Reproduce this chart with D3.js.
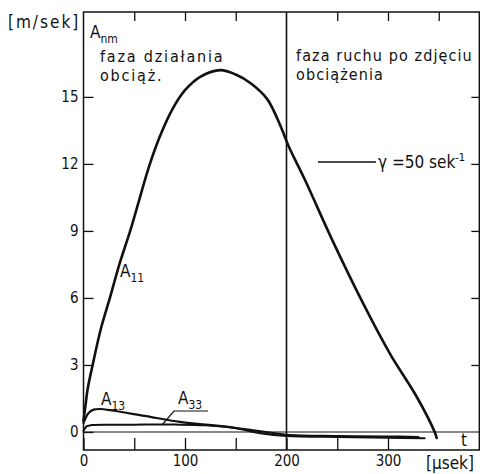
<!DOCTYPE html>
<html>
<head>
<meta charset="utf-8">
<script src="https://d3js.org/d3.v7.min.js"></script>
<style>
body { margin: 0; background: #fff; }
text { fill: #111; font-family: "DejaVu Sans Condensed", "DejaVu Sans", sans-serif; }
.axis path { display: none; }
.axis line { stroke: #111; stroke-width: 1.3px; }
.axis text { font-size: 15px; fill: #111; font-family: "DejaVu Sans Condensed", "DejaVu Sans", sans-serif; }
.curve { fill: none; stroke: #111; stroke-linejoin: round; stroke-linecap: round; }
</style>
</head>
<body>
<svg id="chart" width="480" height="474"></svg>
<script>
// A11 curve (time in microsec, A in m/sek)
var tA11 = [0, 2, 4, 9, 17, 26, 36, 46, 55, 64, 75, 87, 100, 115, 135, 150, 165, 181, 195, 202, 218, 245, 275, 302, 328, 346, 348];
var vA11 = [0.5, 1.2, 1.9, 3.0, 4.6, 6.0, 7.6, 9.0, 10.4, 11.8, 13.2, 14.4, 15.3, 15.9, 16.2, 16.0, 15.6, 14.9, 13.6, 12.8, 11.3, 8.6, 5.8, 3.5, 1.6, 0, -0.27];
// A13
var tA13 = [0, 5, 10, 16, 30, 60, 95, 120, 144, 160, 174, 200, 250, 300, 336];
var vA13 = [0.4, 0.85, 1.0, 1.03, 0.95, 0.72, 0.45, 0.33, 0.22, 0.08, -0.05, -0.18, -0.22, -0.25, -0.28];
// A33
var tA33 = [0, 3, 7, 30, 60, 90, 120, 150, 180, 200, 250, 300, 330];
var vA33 = [0.05, 0.25, 0.3, 0.32, 0.33, 0.33, 0.3, 0.18, 0.0, -0.12, -0.18, -0.2, -0.22];

var yTicks = [0, 3, 6, 9, 12, 15];
var xTicks = [0, 50, 100, 150, 200, 250, 300, 350];
var xLabels = [0, 100, 200, 300];

var svg = d3.select("#chart");

var x = d3.scaleLinear().domain([0, 390]).range([83.5, 479.35]);
var y = d3.scaleLinear().domain([-0.806, 18.8]).range([450, 12]);

// frame
svg.append("rect")
    .attr("x", x(0)).attr("y", y(18.8))
    .attr("width", x(390) - x(0)).attr("height", y(-0.806) - y(18.8))
    .attr("fill", "none").attr("stroke", "#111").attr("stroke-width", 1.5);

// zero line (t axis)
svg.append("line")
    .attr("x1", x(0)).attr("x2", x(390))
    .attr("y1", y(0)).attr("y2", y(0))
    .attr("stroke", "#111").attr("stroke-width", 1.2);

// end of loading phase
svg.append("line")
    .attr("x1", x(200)).attr("x2", x(200))
    .attr("y1", y(18.8)).attr("y2", y(-0.806))
    .attr("stroke", "#111").attr("stroke-width", 1.6);

// axes
svg.append("g").attr("class", "axis")
    .attr("transform", "translate(" + x(0) + ",0)")
    .call(d3.axisLeft(y).tickValues(yTicks).tickSizeInner(-10).tickSizeOuter(0).tickPadding(5));

svg.append("g").attr("class", "axis")
    .attr("transform", "translate(" + x(390) + ",0)")
    .call(d3.axisRight(y).tickValues(yTicks.slice(1)).tickSizeInner(-8).tickSizeOuter(0).tickFormat(""));

svg.append("g").attr("class", "axis")
    .attr("transform", "translate(0," + y(-0.806) + ")")
    .call(d3.axisBottom(x).tickValues(xTicks.filter(function(d){ return d != 350; }))
        .tickSizeInner(-12).tickSizeOuter(0).tickPadding(5)
        .tickFormat(function(d){ return xLabels.indexOf(d) >= 0 ? d : ""; }));

svg.append("g").attr("class", "axis")
    .attr("transform", "translate(0," + y(18.8) + ")")
    .call(d3.axisTop(x).tickValues(xTicks.filter(function(d){ return d != 0 && d != 200; }))
        .tickSizeInner(-9).tickSizeOuter(0).tickFormat(""));

// curves
var line = d3.line()
    .x(function(d){ return x(d[0]); })
    .y(function(d){ return y(d[1]); })
    .curve(d3.curveCatmullRom);

function pts(t, v) { return t.map(function(d, i){ return [d, v[i]]; }); }

svg.append("path").attr("class", "curve").attr("stroke-width", 2.6).attr("d", line(pts(tA11, vA11)));
svg.append("path").attr("class", "curve").attr("stroke-width", 2.2).attr("d", line(pts(tA13, vA13)));
svg.append("path").attr("class", "curve").attr("stroke-width", 2).attr("d", line(pts(tA33, vA33)));

// labels
function txt(px, py, s, size) {
    return svg.append("text").attr("x", px).attr("y", py).style("font-size", (size || 16) + "px").text(s);
}
function sub(el, s) {
    el.append("tspan").attr("dy", 5).style("font-size", "12px").text(s);
}

txt(8, 28, "[m/sek]", 17).style("letter-spacing", "2px");
sub(txt(90, 38, "A", 17), "nm");

txt(100, 62, "faza działania", 16).style("letter-spacing", "1.8px");
txt(100, 81, "obciąż.", 16).style("letter-spacing", "1.8px");
txt(296, 61, "faza ruchu po zdjęciu", 16).style("letter-spacing", "1.1px");
txt(296, 80, "obciążenia", 16).style("letter-spacing", "1.1px");

sub(txt(120, 277, "A", 17), "11");
sub(txt(101, 405, "A", 17), "13");
sub(txt(178, 404, "A", 17), "33");

// A33 leader
svg.append("path")
    .attr("d", "M208,411 L174,411 L162,425")
    .attr("fill", "none").attr("stroke", "#111").attr("stroke-width", 1.2);

// gamma legend
svg.append("line")
    .attr("x1", 318).attr("x2", 376).attr("y1", 162).attr("y2", 162)
    .attr("stroke", "#111").attr("stroke-width", 1.5);
var g = txt(378, 168, "γ =50 sek", 17);
g.append("tspan").attr("dy", -7).style("font-size", "11px").text("-1");

txt(461, 446, "t", 17);
txt(426, 469, "[μsek]", 17);
</script>
</body>
</html>
